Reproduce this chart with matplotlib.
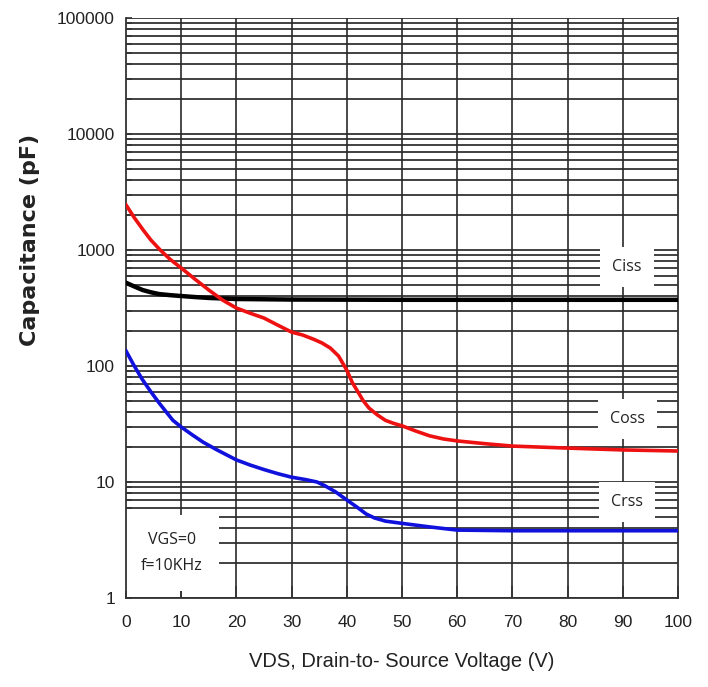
import matplotlib
matplotlib.use("Agg")
import matplotlib.pyplot as plt
import numpy as np

# ---- data ----
ciss_v = [0, 1.5, 3, 4.5, 6, 8, 10, 12.5, 15, 20, 30, 50, 70, 100]
ciss_c = [522, 485, 452, 432, 417, 408, 401, 393, 386, 378, 374, 372, 372, 372]

coss_v = [0, 1.5, 3.1, 4.5, 6.2, 8, 10, 12.5, 15, 17.5, 20, 22.5, 25, 27.5, 30, 32, 34,
          35.5, 37, 38.5, 40, 41, 42, 43, 44, 45.5, 47, 48.5, 50, 52.5, 55, 57.5, 60,
          65, 70, 80, 90, 100]
coss_c = [2450, 1900, 1490, 1220, 1000, 830, 700, 560, 452, 370, 316, 285, 259, 225, 196,
          185, 170, 158, 143, 122, 92, 72, 60, 50, 43.5, 38, 34, 32, 30.5, 27.5, 25, 23.5,
          22.6, 21.4, 20.4, 19.6, 18.9, 18.5]

crss_v = [0, 1.5, 3, 4.5, 6, 7.5, 8.5, 10, 12, 14, 16.5, 20, 22.5, 25, 27.5, 30, 32.5,
          34.6, 36, 38, 40, 42, 43.5, 45, 47, 50, 55, 60, 70, 100]
crss_c = [135, 100, 76, 60, 48, 39, 34, 29.8, 25.5, 22, 18.9, 15.5, 14, 12.8, 11.8, 11,
          10.5, 10, 9.3, 8.2, 7, 6, 5.3, 4.9, 4.6, 4.4, 4.1, 3.85, 3.8, 3.8]

x_ticks = [0, 10, 20, 30, 40, 50, 60, 70, 80, 90, 100]
y_ticks = [1, 10, 100, 1000, 10000, 100000]
y_ticklabels = ["1", "10", "100", "1000", "10000", "100000"]

series_labels = ["Ciss", "Coss", "Crss"]
label_pos = [(90.8, 713), (90.8, 34.9), (90.8, 6.72)]
cond_text = "VGS=0\nf=10KHz"

plt.rcParams['font.family'] = ['Liberation Sans', 'DejaVu Sans']

fig = plt.figure(figsize=(7.08, 6.87), dpi=100)
ax = fig.add_axes([126/708, 1 - 598/687, (678-126)/708, (598-18)/687])

ax.set_yscale('log')
ax.set_xlim(0, 100)
ax.set_ylim(1, 100000)
ax.set_xticks(x_ticks)
ax.set_xticklabels([str(t) for t in x_ticks])
ax.set_yticks(y_ticks)
ax.set_yticklabels(y_ticklabels)
ax.yaxis.set_minor_locator(matplotlib.ticker.LogLocator(base=10, subs=np.arange(2, 10)))
ax.yaxis.set_minor_formatter(matplotlib.ticker.NullFormatter())

# grid lines drawn below everything (so the text boxes can hide them)
for d in y_ticks[:-1]:
    for m in range(1, 10):
        ax.axhline(d * m, color='#333333', lw=1.3, zorder=1)
ax.axhline(y_ticks[-1], color='#333333', lw=1.3, zorder=1)
for xt in x_ticks[1:-1]:
    ax.axvline(xt, color='#2a2a2a', lw=1.2, zorder=1)

ax.tick_params(axis='both', which='both', direction='in', colors='#333333',
               labelcolor='#222222', labelsize=12.5, width=1.2)
ax.tick_params(axis='y', which='both', length=4, pad=8)
ax.tick_params(axis='x', length=9, pad=12)
ax.tick_params(top=False, right=False)

for s in ['left', 'bottom', 'right']:
    ax.spines[s].set_color('#333333')
    ax.spines[s].set_linewidth(1.3)
ax.spines['top'].set_visible(False)

ax.plot(ciss_v, ciss_c, color='black', lw=3.2, zorder=3, solid_joinstyle='round')
ax.plot(coss_v, coss_c, color='#ee1111', lw=2.6, zorder=3, solid_joinstyle='round')
ax.plot(crss_v, crss_c, color='#1111dd', lw=2.6, zorder=3, solid_joinstyle='round')

for lab, (lx, ly) in zip(series_labels, label_pos):
    ax.text(lx, ly, lab, ha='center', va='center', fontsize=11.5,
            family=['Open Sans', 'DejaVu Sans'], color='#222222', zorder=2.4,
            bbox=dict(boxstyle='square,pad=0.75', fc='white', ec='none'))

ax.text(8.3, 2.45, cond_text, ha='center', va='center', fontsize=11.5,
        family=['Open Sans', 'DejaVu Sans'], color='#222222', linespacing=1.85,
        zorder=2.4, bbox=dict(boxstyle='square,pad=1.05', fc='white', ec='none'))

ax.set_xlabel("VDS, Drain-to- Source Voltage (V)", fontsize=14.5, color='#222222', labelpad=16)
ax.set_ylabel("Capacitance (pF)", fontsize=16, fontweight='bold', color='#222222',
              family=['DejaVu Sans'], va='center')
ax.yaxis.set_label_coords(-0.174, 0.617)

fig.savefig("out.png", dpi=100)
